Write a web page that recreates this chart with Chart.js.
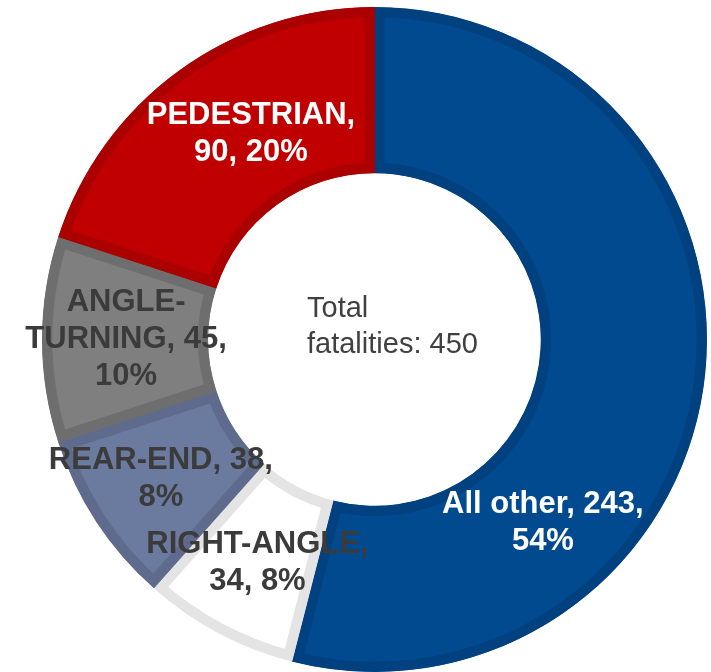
<!DOCTYPE html>
<html>
<head>
<meta charset="utf-8">
<script src="https://cdn.jsdelivr.net/npm/chart.js@4/dist/chart.umd.min.js"></script>
<style>
  body { margin: 0; background: #ffffff; }
  #wrap { width: 711px; height: 672px; position: relative; }
</style>
</head>
<body>
<div id="wrap"><canvas id="fatalities"></canvas></div>
<script>
// crash types, clockwise from 12 o'clock
const categories = ['All other', 'RIGHT-ANGLE', 'REAR-END', 'ANGLE-TURNING', 'PEDESTRIAN'];
const fatalities = [243, 34, 38, 45, 90];

const fillColors   = ['#024a8f', '#ffffff', '#6b7a9f', '#7f7f7f', '#c00000'];
const borderColors = ['#01417f', '#e4e4e4', '#5e6b8c', '#6e6e6e', '#aa0000'];
const labelColors  = ['#ffffff', '#3b3b3b', '#3b3b3b', '#3b3b3b', '#ffffff'];
// nudge from each arc's centre point to where its label sits
const labelShift = [[-79, 152], [0, 3], [-5, 3], [1, 0], [23, -4]];

const FONT = '"Liberation Sans", Arial, sans-serif';
const total = fatalities.reduce((a, b) => a + b, 0);

// split after spaces and hyphens, then fill lines up to maxWidth
function wrapText(ctx, text, maxWidth) {
    const tokens = text.match(/[^\s-]+-?|\s+/g) || [];
    const lines = [];
    let cur = '';
    for (const tok of tokens) {
        const test = cur + tok;
        if (cur.trim() && ctx.measureText(test.trim()).width > maxWidth) {
            lines.push(cur.trim());
            cur = tok.trim() ? tok : '';
        } else {
            cur = test;
        }
    }
    if (cur.trim()) lines.push(cur.trim());
    return lines;
}

const sliceLabels = {
    id: 'sliceLabels',
    afterDatasetsDraw(chart) {
        const ctx = chart.ctx;
        const arcs = chart.getDatasetMeta(0).data;
        ctx.save();
        ctx.font = 'bold 31px ' + FONT;
        ctx.textAlign = 'center';
        ctx.textBaseline = 'middle';
        arcs.forEach((arc, i) => {
            const v = fatalities[i];
            const pct = Math.round(v / total * 100);
            const text = `${categories[i]}, ${v}, ${pct}%`;
            const lines = wrapText(ctx, text, 240);
            const p = arc.getCenterPoint();
            const cx = p.x + labelShift[i][0];
            const cy = p.y + labelShift[i][1];
            ctx.fillStyle = labelColors[i];
            lines.forEach((ln, j) => {
                ctx.fillText(ln, cx, cy + (j - (lines.length - 1) / 2) * 37);
            });
        });

        // total in the hole
        const c = arcs[0];
        ctx.font = '29px ' + FONT;
        ctx.textAlign = 'left';
        ctx.textBaseline = 'alphabetic';
        ctx.fillStyle = '#404040';
        ctx.fillText('Total', c.x - 67.5, c.y - 22.5);
        ctx.fillText('fatalities: ' + total, c.x - 67.5, c.y + 13.5);
        ctx.restore();
    }
};

new Chart(document.getElementById('fatalities'), {
    type: 'doughnut',
    data: {
        labels: categories,
        datasets: [{
            data: fatalities,
            backgroundColor: fillColors,
            borderColor: borderColors,
            borderWidth: 10,
            borderAlign: 'inner',
            borderJoinStyle: 'miter'
        }]
    },
    options: {
        responsive: true,
        maintainAspectRatio: false,
        animation: false,
        cutout: '50%',
        layout: { padding: { top: 7, bottom: 0, left: 42, right: 4 } },
        plugins: {
            legend: { display: false },
            tooltip: { enabled: false }
        }
    },
    plugins: [sliceLabels]
});
</script>
</body>
</html>
